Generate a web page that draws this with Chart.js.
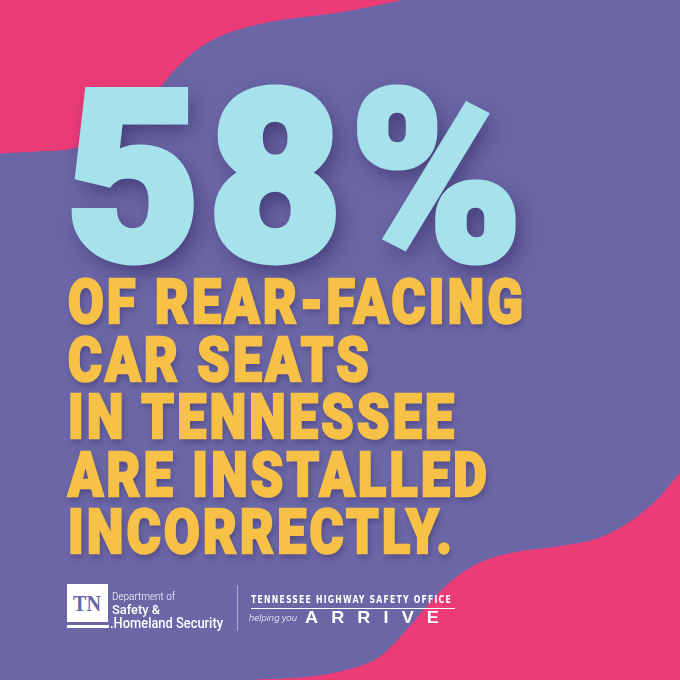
<!DOCTYPE html>
<html>
<head>
<meta charset="utf-8">
<script src="https://cdn.jsdelivr.net/npm/chart.js@4.4.1/dist/chart.umd.min.js"></script>
<style>
  html, body { margin:0; padding:0; }
  body { width:680px; height:680px; overflow:hidden; background:#6b66a6; position:relative; font-family:Roboto, "Liberation Sans", sans-serif; }
  #bg { position:absolute; left:0; top:0; width:680px; height:680px; }
  .abs { position:absolute; white-space:nowrap; transform-origin:0 0; }
  #stat { left:66px; top:61px; font-size:237px; line-height:1; font-weight:900; color:#a6e2ec;
          text-shadow: 6px 9px 22px rgba(40,30,85,0.6); -webkit-text-stroke: 7px #a6e2ec; letter-spacing:8px; }
  .line { left:68px; font-size:62px; line-height:1; font-weight:900; color:#f6c146;
          text-shadow: 2px 4px 7px rgba(45,35,90,0.45); -webkit-text-stroke: 2.5px #f6c146; letter-spacing:4px; }
  .w { color:#fff; }
</style>
</head>
<body>
<canvas id="bg" width="680" height="680"></canvas>
<div id="stat" class="abs" data-w="464"></div>
<div id="lines"></div>

<!-- footer -->
<div class="abs" style="left:67px;top:584px;width:41px;height:38px;background:#fff;"></div>
<div class="abs" style="left:67px;top:625px;width:42px;height:3px;background:#fff;"></div>
<div class="abs" id="tn" data-w="28" style="left:73px;top:592px;font-family:'Liberation Serif',serif;font-weight:700;font-size:23px;line-height:1;color:#6b66a6;">TN</div>
<div class="abs w" data-w="63" style="left:112px;top:592px;font-size:10.5px;font-weight:300;line-height:1;">Department of</div>
<div class="abs w" data-w="48" style="left:112px;top:603px;font-size:13.5px;font-weight:500;line-height:1;">Safety &amp;</div>
<div class="abs w" data-w="113" style="left:110px;top:616px;font-size:14px;font-weight:500;line-height:1;">.Homeland Security</div>
<div class="abs" style="left:237px;top:585px;width:1px;height:46px;background:rgba(255,255,255,0.45);"></div>
<div class="abs w" data-w="201" style="left:251px;top:594px;font-family:'DejaVu Sans Condensed','DejaVu Sans',sans-serif;font-weight:700;font-size:11px;line-height:1;letter-spacing:1.5px;">TENNESSEE HIGHWAY SAFETY OFFICE</div>
<div class="abs" style="left:251px;top:608px;width:204px;height:1px;background:#fff;"></div>
<div class="abs w" data-w="48" style="left:249px;top:613px;font-size:9.5px;font-style:italic;font-weight:300;line-height:1;">helping you</div>
<div class="abs w" data-w="147" style="left:305px;top:609px;font-family:'Liberation Sans',sans-serif;font-weight:700;font-size:16.5px;line-height:1;letter-spacing:12px;">ARRIVE</div>

<script>
// ---- data ----
const statValue = [58];
const statUnit = ["%"];
const messageLines = ["OF REAR-FACING", "CAR SEATS", "IN TENNESSEE", "ARE INSTALLED", "INCORRECTLY."];

// outline of the pink wave at the top-left (x, y in picture pixels, y measured from the top)
const waveTopX = [0, 35, 67, 95, 120, 145, 160, 177, 200, 227, 267, 300, 333, 367, 400];
const waveTopY = [153, 151, 149, 142, 126, 106, 87, 67, 47, 33, 22, 17, 13, 7, 0];
// outline of the pink wave at the bottom-right
const waveBottomX = [256, 300, 340, 380, 407, 430, 453, 480, 513, 557, 600, 633, 660, 680];
const waveBottomY = [680, 678, 672, 657, 630, 603, 580, 563, 553, 547, 538, 520, 497, 473];

const PINK = '#ec3c78';

function pts(xs, ys) { return xs.map((x, i) => ({ x: x, y: ys[i] })); }

new Chart(document.getElementById('bg'), {
  type: 'line',
  data: {
    datasets: [
      { data: pts(waveTopX, waveTopY), fill: { value: 0 }, backgroundColor: PINK, borderColor: PINK,
        borderWidth: 1, pointRadius: 0, cubicInterpolationMode: 'monotone' },
      { data: pts(waveBottomX, waveBottomY), fill: { value: 680 }, backgroundColor: PINK, borderColor: PINK,
        borderWidth: 1, pointRadius: 0, cubicInterpolationMode: 'monotone' }
    ]
  },
  options: {
    responsive: false, animation: false, events: [],
    layout: { padding: 0 },
    scales: {
      x: { type: 'linear', min: 0, max: 680, display: false },
      y: { type: 'linear', min: 0, max: 680, reverse: true, display: false }
    },
    plugins: { legend: { display: false }, tooltip: { enabled: false } }
  }
});

// text
document.getElementById('stat').textContent = statValue[0] + statUnit[0];
const linesBox = document.getElementById('lines');
const baseTop = 271, pitch = 57.5;
messageLines.forEach((t, i) => {
  const d = document.createElement('div');
  d.className = 'abs line';
  d.textContent = t;
  d.style.top = (baseTop + pitch * i) + 'px';
  linesBox.appendChild(d);
});
// common horizontal scale so first line matches its width in the picture
const lineEls = linesBox.querySelectorAll('.line');
const s = 458 / lineEls[0].getBoundingClientRect().width;
lineEls.forEach(el => el.style.transform = 'scaleX(' + s + ')');

document.querySelectorAll('[data-w]').forEach(el => {
  const target = parseFloat(el.getAttribute('data-w'));
  const w = el.getBoundingClientRect().width;
  el.style.transform = 'scaleX(' + (target / w) + ')';
});
</script>
</body>
</html>
